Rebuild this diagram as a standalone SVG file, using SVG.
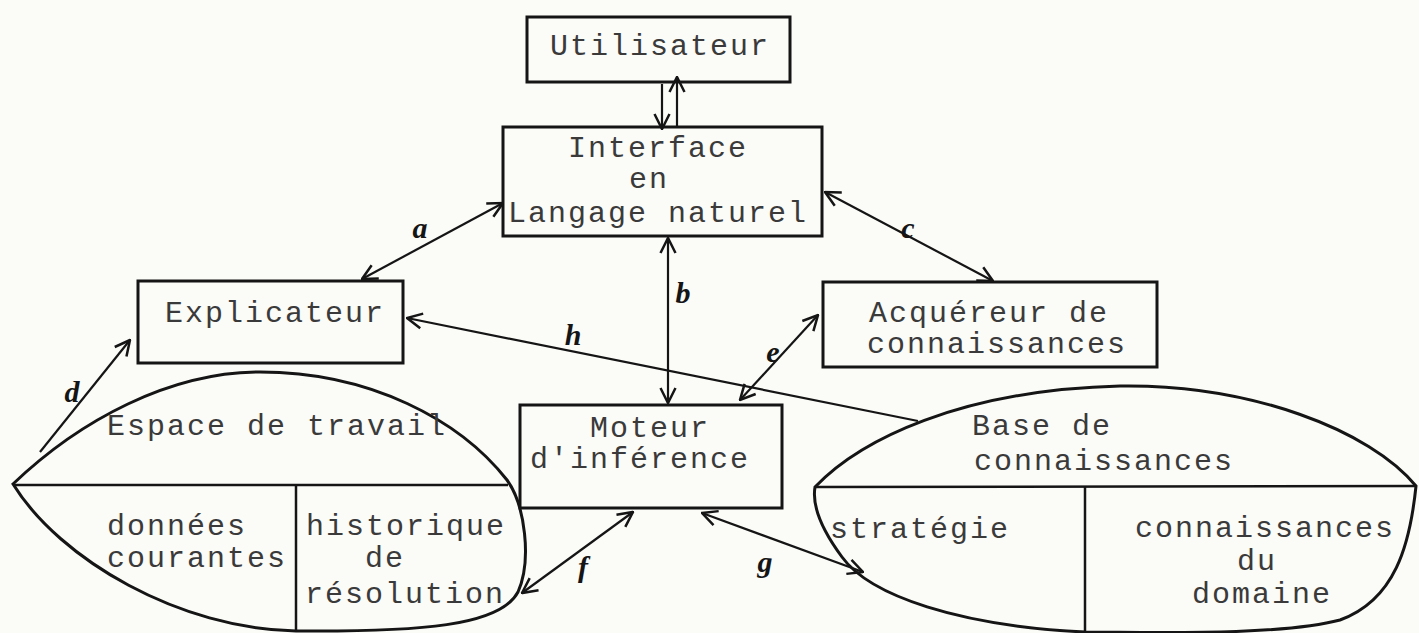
<svg xmlns="http://www.w3.org/2000/svg" width="1419" height="633" viewBox="0 0 1419 633">
<style>
.box{fill:none;stroke:#151515;stroke-width:3}
.shape{fill:none;stroke:#151515;stroke-width:3}
.div{fill:none;stroke:#151515;stroke-width:2.5}
.t{font-family:"Liberation Mono","DejaVu Sans Mono",monospace;font-size:30px;letter-spacing:2px;fill:#3a3a3a}
.c{stroke:#151515;stroke-width:2.2;fill:none}
.lbl{font-family:"Liberation Serif","DejaVu Serif",serif;font-style:italic;font-weight:bold;font-size:30px;fill:#151515;text-anchor:middle}
</style>
<defs>
<marker id="ah" viewBox="0 0 18 18" refX="17" refY="9" markerWidth="18" markerHeight="18" markerUnits="userSpaceOnUse" orient="auto-start-reverse">
<path d="M2,1.5 L17,9 L2,16.5" fill="none" stroke="#151515" stroke-width="2.5"/>
</marker>
</defs>
<rect width="1419" height="633" fill="#fbfbf8"/>

<g id="espace-de-travail">
<path class="shape" d="M13,484 C80,420 170,372 260,372 C370,372 460,420 507,480 C525,505 532,560 518,592 C500,626 420,632 296,631 C180,629 60,560 13,484 Z"/>
<line class="div" x1="13" y1="485" x2="508" y2="485"/>
<line class="div" x1="296" y1="485" x2="296" y2="631"/>
<text class="t" x="107" y="435">Espace de travail</text>
<text class="t" x="107" y="535">données</text>
<text class="t" x="107" y="567">courantes</text>
<text class="t" x="306" y="535">historique</text>
<text class="t" x="365" y="567">de</text>
<text class="t" x="305" y="603">résolution</text>
</g>

<g id="base-de-connaissances">
<path class="shape" d="M815,487 C860,440 960,390 1120,386 C1250,384 1370,430 1416,486 C1410,545 1395,600 1340,620 C1280,636 1150,632 1085,632 C960,626 870,596 842,557 C822,530 812,505 815,487 Z"/>
<line class="div" x1="815" y1="487" x2="1416" y2="486"/>
<line class="div" x1="1085" y1="487" x2="1085" y2="632"/>
<text class="t" x="972" y="435">Base de</text>
<text class="t" x="974" y="470">connaissances</text>
<text class="t" x="830" y="538">stratégie</text>
<text class="t" x="1135" y="537">connaissances</text>
<text class="t" x="1237" y="570">du</text>
<text class="t" x="1192" y="603">domaine</text>
</g>

<g id="utilisateur">
<rect class="box" x="527" y="17" width="263" height="65"/>
<text class="t" x="550" y="55">Utilisateur</text>
</g>

<g id="interface">
<rect class="box" x="503" y="127" width="319" height="109"/>
<text class="t" x="568" y="157">Interface</text>
<text class="t" x="629" y="188">en</text>
<text class="t" x="508" y="222">Langage naturel</text>
</g>

<g id="explicateur">
<rect class="box" x="138" y="281" width="265" height="82"/>
<text class="t" x="165" y="322">Explicateur</text>
</g>

<g id="acquereur">
<rect class="box" x="823" y="282" width="334" height="85"/>
<text class="t" x="869" y="322">Acquéreur de</text>
<text class="t" x="867" y="353">connaissances</text>
</g>

<g id="moteur">
<rect class="box" x="520" y="405" width="262" height="103"/>
<text class="t" x="590" y="437">Moteur</text>
<text class="t" x="530" y="468">d'inférence</text>
</g>

<g id="connectors">
<line class="c" x1="677" y1="127" x2="677" y2="77" marker-end="url(#ah)"/>
<line class="c" x1="662" y1="84" x2="662" y2="129" marker-end="url(#ah)"/>
<line class="c" x1="503" y1="203" x2="362" y2="279" marker-start="url(#ah)" marker-end="url(#ah)"/>
<line class="c" x1="825" y1="192" x2="993" y2="281" marker-start="url(#ah)" marker-end="url(#ah)"/>
<line class="c" x1="668" y1="238" x2="668" y2="403" marker-start="url(#ah)" marker-end="url(#ah)"/>
<line class="c" x1="740" y1="400" x2="818" y2="315" marker-start="url(#ah)" marker-end="url(#ah)"/>
<line class="c" x1="918" y1="421" x2="407" y2="318" marker-end="url(#ah)"/>
<line class="c" x1="40" y1="452" x2="130" y2="340" marker-end="url(#ah)"/>
<line class="c" x1="633" y1="512" x2="522" y2="593" marker-start="url(#ah)" marker-end="url(#ah)"/>
<line class="c" x1="702" y1="513" x2="863" y2="572" marker-start="url(#ah)" marker-end="url(#ah)"/>
<text class="lbl" x="420" y="238">a</text>
<text class="lbl" x="683" y="303">b</text>
<text class="lbl" x="908" y="238">c</text>
<text class="lbl" x="72" y="402">d</text>
<text class="lbl" x="773" y="362">e</text>
<text class="lbl" x="583" y="577">f</text>
<text class="lbl" x="765" y="572">g</text>
<text class="lbl" x="573" y="345">h</text>
</g>
</svg>
